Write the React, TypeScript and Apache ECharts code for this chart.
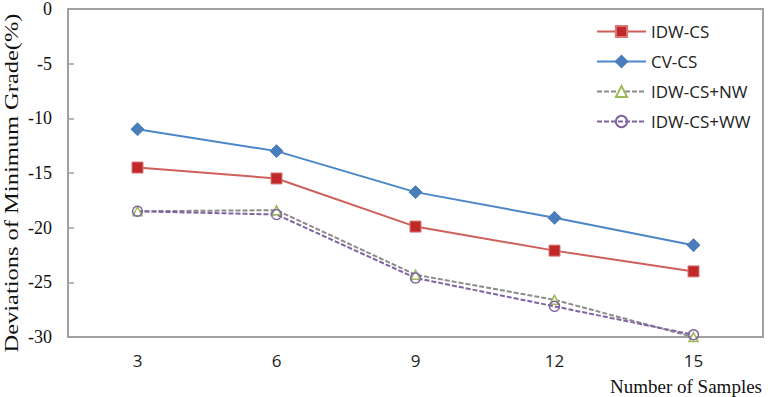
import React, { useEffect, useRef } from "react";
import * as echarts from "echarts";

const categories = ["3", "6", "9", "12", "15"];
const idwCs = [-14.5, -15.5, -19.9, -22.1, -24.0];
const cvCs = [-11.0, -13.0, -16.75, -19.1, -21.6];
const idwCsNw = [-18.5, -18.4, -24.3, -26.6, -30.0];
const idwCsWw = [-18.5, -18.8, -24.6, -27.2, -29.8];
const yTitle = "Deviations of Minimum Grade(%)";
const xTitle = "Number of Samples";

export default function App() {
  const ref = useRef<HTMLDivElement>(null);
  useEffect(() => {
    if (!ref.current) return;
    const chart = echarts.init(ref.current, undefined, { renderer: "svg" });
    const serif = "'Liberation Serif', 'DejaVu Serif', serif";
    const sans = "'Open Sans', 'Liberation Sans', sans-serif";
    chart.setOption({
      animation: false,
      backgroundColor: "#ffffff",
      grid: {
        left: 68,
        top: 9,
        right: 5,
        bottom: 60,
        show: true,
        borderColor: "#a0a0a0",
        borderWidth: 2,
        backgroundColor: "transparent",
      },
      legend: {
        orient: "vertical",
        left: 596,
        top: 23,
        padding: 0,
        itemWidth: 49,
        itemHeight: 14,
        itemGap: 13,
        textStyle: { fontFamily: sans, fontSize: 17, color: "#222" },
        data: ["IDW-CS", "CV-CS", "IDW-CS+NW", "IDW-CS+WW"],
      },
      xAxis: {
        type: "category",
        data: categories,
        boundaryGap: true,
        axisLine: { lineStyle: { color: "#a0a0a0", width: 2 } },
        axisTick: { inside: true, length: 6, lineStyle: { color: "#a0a0a0", width: 1.5 } },
        axisLabel: { fontFamily: sans, fontSize: 17, color: "#222", margin: 15 },
        splitLine: { show: false },
      },
      yAxis: {
        type: "value",
        min: -30,
        max: 0,
        interval: 5,
        axisLine: { show: true, lineStyle: { color: "#a0a0a0", width: 2 } },
        axisTick: { show: true, inside: true, length: 6, lineStyle: { color: "#a0a0a0", width: 1.5 } },
        axisLabel: { fontFamily: serif, fontSize: 18, color: "#111", margin: 16 },
        splitLine: { show: false },
      },
      graphic: [
        {
          type: "text",
          x: 12,
          y: 183,
          rotation: Math.PI / 2,
          scaleX: 1.36,
          style: {
            text: yTitle,
            fontFamily: serif,
            fontSize: 18,
            fill: "#111",
            textAlign: "center",
            textVerticalAlign: "middle",
          },
        },
        {
          type: "text",
          x: 762,
          y: 386,
          style: {
            text: xTitle,
            fontFamily: serif,
            fontSize: 19,
            fill: "#111",
            textAlign: "right",
            textVerticalAlign: "middle",
          },
        },
      ],
      series: [
        {
          name: "IDW-CS",
          type: "line",
          data: idwCs,
          symbol: "rect",
          symbolSize: 11,
          lineStyle: { color: "#cf5f5a", width: 2 },
          itemStyle: { color: "#c0282a", borderColor: "#d87873", borderWidth: 1 },
          z: 3,
        },
        {
          name: "CV-CS",
          type: "line",
          data: cvCs,
          symbol: "diamond",
          symbolSize: 13,
          lineStyle: { color: "#4a86c8", width: 2 },
          itemStyle: { color: "#4a7ebb", borderColor: "#4a7ebb", borderWidth: 1 },
          z: 3,
        },
        {
          name: "IDW-CS+NW",
          type: "line",
          data: idwCsNw,
          symbol: "triangle",
          symbolSize: 9,
          lineStyle: { color: "#8c8c8c", width: 2, type: [5, 2] },
          itemStyle: { color: "#ffffff", borderColor: "#9bbb59", borderWidth: 1.5 },
          z: 2,
        },
        {
          name: "IDW-CS+WW",
          type: "line",
          data: idwCsWw,
          symbol: "circle",
          symbolSize: 10,
          lineStyle: { color: "#8064a2", width: 2, type: [5, 2] },
          itemStyle: { color: "transparent", borderColor: "#8064a2", borderWidth: 1.5 },
          z: 2,
        },
      ],
    });
    return () => chart.dispose();
  }, []);
  return <div ref={ref} style={{ width: 768, height: 397, position: "absolute", left: 0, top: 0 }} />;
}
